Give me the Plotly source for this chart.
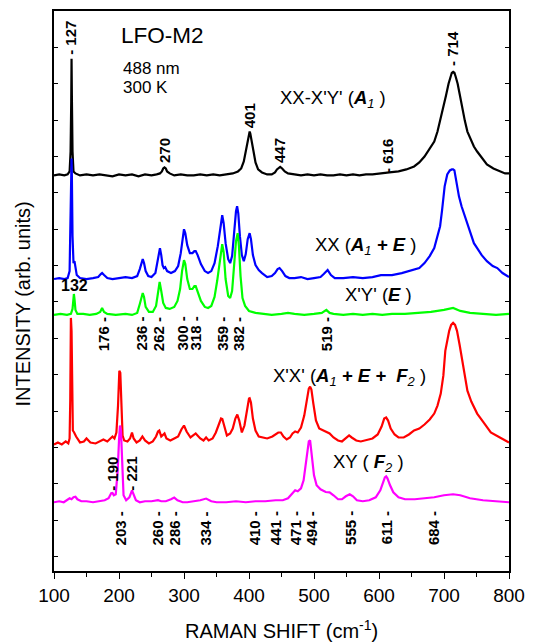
import plotly.graph_objects as go

# ---- spectra: (Raman shift cm^-1, intensity arb. units) ----
xx_minus_xy = [(100,397),(108,398),(116,397),(121,398),(124,401),(125.5,421),(126.5,471),(127,514),(127.5,476),(128.5,421),
 (130,401),(133,399),(140,397),(150,398),(160,397),(170,398),(180,397),(190,396),(200,398),(210,397),
 (220,398),(230,396),(240,398),(250,397),(258,398),(263,399),(266,401),(268,404),(270,405),(272,404),
 (274,401),(278,399),(285,397),(295,398),(305,397),(315,397),(325,398),(335,397),(345,398),(355,397),
 (365,398),(375,399),(383,401),(388,404),(392,411),(395,421),(398,434),(400,440),(401,441),(402,439),
 (404,433),(407,421),(410,410),(414,403),(420,400),(428,398),(435,398),(440,400),(443,403),(446,405),
 (448,405.5),(451,404),(455,401),(460,399),(470,398),(480,397),(490,398),(500,397),(510,398),(520,397),
 (530,397),(540,398),(550,397),(560,398),(570,397),(580,398),(590,398),(600,399),(616,400),(630,401),
 (642,403),(654,406),(662,410),(670,416),(677,423),(685,431),(690,441),(695,454),(699,465),(703,477),
 (707,489),(710,496),(712,500),(714,501),(716,500),(718,496),(721,489),(724,479),(728,464),(732,452),
 (736,441),(741,433),(746,426),(751,421),(758,415),(766,408),(776,404),(786,401),(794,399),(800,399)]

xx = [(100,293),(108,294),(116,293),(121,294),(124,301),(125.5,351),(126.5,401),(127,414),(127.5,396),(128.5,336),
 (130,309),(131.5,311),(133,306),(135,297),(140,294),(150,293),(160,294),(168,295),(172,298),(174,299),
 (177,297),(182,294),(190,293),(200,294),(210,295),(220,294),(228,296),(232,303),(234.5,309),(236.5,313),
 (238.5,309),(241,301),(245,296),(250,295),(256,299),(259,309),(261,319),(263,324),(265,317),(267,307),
 (269,304),(271,305),(274,301),(280,299),(286,301),(291,306),(295,319),(298,335),(300,343),(302,339),
 (305,327),(309,319),(313,319),(316,321),(318,321),(321,317),(326,308),(332,301),(337,299),(342,301),
 (347,309),(352,326),(356,346),(358.8,357),(361,349),(364,329),(368,313),(371,309),(374,316),(377,339),
 (380,361),(381.7,366),(383.5,359),(386,336),(389,317),(392,311),(395,318),(398,333),(401,339),(403,333),
 (406,317),(410,307),(415,302),(420,299),(428,295),(435,296),(440,299),(444,303),(447,304),(451,301),
 (456,296),(462,294),(470,294),(480,295),(490,293),(500,294),(510,295),(515,298),(521,302),(526,297),
 (532,294),(545,294),(560,295),(575,294),(590,295),(603,297),(620,297),(635,299),(645,301),(654,303),
 (662,304),(670,309),(678,316),(685,324),(690,335),(694,346),(697,362),(701,386),(705,398),(709,402),
 (712,403),(714,403),(716,402),(719,391),(723,376),(727,366),(731,358),(735,349),(740,339),(746,329),
 (751,324),(758,317),(766,311),(775,306),(782,304),(790,299),(800,295)]

xpyp = [(100,257),(110,258),(120,257),(126,258),(128.5,263),(130,273),(130.6,278),(131.5,273),(133,262),(136,258),
 (145,258),(155,257),(165,258),(171,260),(174,264),(177,260),(182,258),(195,257),(210,258),(220,257),
 (228,259),(232,268),(234.5,276),(236.5,279),(238.5,275),(241,265),(246,260),(252,260),(257,266),(260,281),
 (262.5,290),(265,281),(268,269),(272,264),(278,263),(285,265),(290,271),(294,283),(297,301),(300,312),
 (302,308),(305,293),(309,283),(313,283),(316,286),(318,286),(321,281),(326,271),(332,265),(337,264),
 (342,266),(347,275),(351,291),(355,313),(358.8,328),(361,320),(364,293),(368,276),(371,274),(374,281),
 (377,306),(380,331),(382.6,339),(384.5,326),(387,296),(390,274),(394,266),(400,261),(410,259),(420,258),
 (435,257),(450,258),(460,259),(470,258),(485,257),(500,258),(512,259),(519,262),(524,259),(530,258),
 (545,257),(560,258),(575,257),(590,258),(605,257),(620,258),(640,258),(660,259),(680,260),(700,262),
 (714,264),(725,261),(740,259),(760,258),(780,257),(800,258)]

xpxp = [(100,127),(106,129),(112,127),(118,130),(122,128),(124,133),(125,171),(126,254),(127,241),(127.8,171),
 (129,141),(131,139),(134,135),(140,129),(146,130),(150,133),(156,129),(164,128),(170,130),(176,132),
 (182,130),(187,133),(190,135),(193,133),(196,139),(198.5,166),(200.5,201),(202,199),(203.5,166),(205.5,136),
 (208,131),(213,130),(217,133),(220,139),(222.5,133),(227,129),(232,131),(236,135),(240,131),(246,128),
 (252,130),(257,135),(260,140),(262,141),(265,135),(268,137),(270,138),(273,133),(279,131),(285,133),
 (291,135),(296,142),(300,146),(304,140),(310,134),(318,138),(325,133),(330,131),(334,134),(338,131),
 (344,133),(349,139),(353,147),(357,153),(359,152.5),(362,145),(366,136),(371,138),(375,143),(379,153),
 (382,157),(385,151),(389,139),(393,146),(397,163),(400,173),(401,173.3),(403,169),(406,153),(410,141),
 (415,135),(420,134),(428,133),(436,135),(441,137),(445,139),(449,139),(453,135),(458,132),(463,134),
 (467,138),(471,140),(475,139),(480,144),(485,156),(489,171),(492,183),(494,185),(496,182),(499,168),
 (503,151),(508,143),(514,141),(519,139),(524,138),(530,134),(537,131),(543,130),(549,133),(554,136),
 (558,134),(565,131),(572,130),(580,131),(590,133),(598,137),(604,145),(608,153),(611,154),(614,151),
 (618,143),(624,137),(630,134),(638,134),(646,137),(654,141),(662,143),(670,147),(678,152),(685,158),
 (690,166),(695,178),(699,196),(702,221),(705,233),(708,241),(711,247),(714,249),(717,247),(720,241),
 (724,227),(728,211),(732,194),(736,181),(742,170),(751,158),(760,150),(772,139),(786,134),(800,129)]

xy = [(100,69),(108,70),(115,69),(120,71),(124,73),(127,72),(130,74),(133,74.5),(136,72),(142,70),
 (150,70),(160,69),(170,70),(178,71),(184,73),(188,78),(190,78.3),(192,76),(195,77),(198,101),
 (200,131),(201.5,146),(203,141),(205,101),(207,76),(211,71),(216,74),(220,81),(222.5,77),(226,71),
 (232,69),(240,70),(250,70),(256,71),(260,71),(265,70),(272,70),(280,72),(285,73.7),(290,71),
 (298,69),(305,69),(315,70),(325,71),(334,72.7),(342,70),(350,69),(365,69),(380,70),(395,69),
 (410,70),(425,70),(441,71),(452,71),(460,73),(466,77),(471,81),(475,80),(480,83),(484,91),
 (487,106),(490,123),(492,130),(494,131),(496,121),(498,106),(500,96),(504,86),(510,82),(518,79.3),
 (524,79),(530,76),(537,72),(543,72),(549,75),(555,77),(560,75),(566,71),(575,70),(585,71),
 (595,74),(602,81),(606,89),(609,94),(611,95),(613,93),(617,86),(622,79),(630,74),(640,72),
 (655,72),(670,73),(685,74),(700,76),(714,77),(725,76),(740,73),(760,71),(780,70),(800,69)]

# ---- peak labels ----
top_labels   = ["- 127", "270", "401", "447", "- 616", "- 714"]
top_label_x  = [126, 270, 401, 447, 613, 714]
top_label_y  = [535, 422, 457, 422, 417, 524]

e_labels     = ["176 -", "236 -", "262 -", "300 -", "318 -", "359 -", "382 -", "519 -"]
e_label_x    = [176, 235, 262, 298, 318, 360, 385, 519]
e_label_y    = 238

f2_labels_up = ["- 190", "- 221"]
f2_up_x      = [190, 219]
f2_up_y      = [97, 98]

f2_labels    = ["203 -", "260 -", "286 -", "334 -", "410 -", "441 -", "471 -", "494 -", "555 -", "611 -", "684 -"]
f2_label_x   = [202, 259, 285, 333, 408, 440, 471, 496, 555, 611, 683]
f2_label_y   = 43

FONT = "Liberation Sans, Arial, sans-serif"

fig = go.Figure()
series = [
    (xx_minus_xy, "#000000"),
    (xx, "#0000FF"),
    (xpyp, "#00FF00"),
    (xpxp, "#FF0000"),
    (xy, "#FF00FF"),
]
for pts, color in series:
    xs, ys = zip(*pts)
    fig.add_trace(go.Scatter(x=list(xs), y=list(ys), mode="lines",
                             line=dict(color=color, width=2.2),
                             showlegend=False, hoverinfo="skip"))

ann = []
def rot(text, x, y):
    ann.append(dict(text="<b>%s</b>" % text, x=x, y=y, xref="x", yref="y",
                    textangle=-90, showarrow=False, xanchor="center", yanchor="middle",
                    font=dict(size=15, color="black", family=FONT)))

for t, x, y in zip(top_labels, top_label_x, top_label_y):
    rot(t, x, y)
for t, x in zip(e_labels, e_label_x):
    rot(t, x, e_label_y)
for t, x, y in zip(f2_labels_up, f2_up_x, f2_up_y):
    rot(t, x, y)
for t, x in zip(f2_labels, f2_label_x):
    rot(t, x, f2_label_y)

ann.append(dict(text="<b>132</b>", x=131, y=287, xref="x", yref="y", showarrow=False,
                xanchor="center", yanchor="middle", font=dict(size=16, color="black", family=FONT)))

def txt(text, x, y, size):
    ann.append(dict(text=text, x=x, y=y, xref="x", yref="y", showarrow=False,
                    xanchor="left", yanchor="middle", font=dict(size=size, color="black", family=FONT)))

txt("LFO-M2", 200, 537, 22.5)
txt("488 nm", 203, 504, 17)
txt("300 K", 203, 485, 17)
txt("XX-X'Y' (<b><i>A</i></b><sub><i>1</i></sub> )", 445, 474, 18.5)
txt("XX (<b><i>A</i></b><sub><i>1</i></sub><b><i> + E</i></b> )", 499, 326, 18.5)
txt("X'Y' (<b><i>E</i></b> )", 545, 277, 18.5)
txt("X'X' (<b><i>A</i></b><sub><i>1</i></sub><b><i> + E +  F</i></b><sub><i>2</i></sub> )", 434, 195, 18.5)
txt("XY ( <b><i>F</i></b><sub><i>2</i></sub> )", 526, 108, 18.5)

ann.append(dict(text="INTENSITY (arb. units)", x=-0.068, y=0.476, xref="paper", yref="paper",
                textangle=-90, showarrow=False, xanchor="center", yanchor="middle",
                font=dict(size=20, color="black", family=FONT)))
ann.append(dict(text="RAMAN SHIFT (cm<sup>-1</sup>)", x=0.5, y=-0.105, xref="paper", yref="paper",
                showarrow=False, xanchor="center", yanchor="middle",
                font=dict(size=20, color="black", family=FONT)))

fig.update_layout(
    width=534, height=643,
    margin=dict(l=54, r=22, t=9, b=72),
    paper_bgcolor="white", plot_bgcolor="white",
    font=dict(family=FONT, color="black"),
    annotations=ann,
    xaxis=dict(range=[100, 800], dtick=100, tick0=100, ticks="outside", ticklen=6, tickwidth=1.3,
               tickcolor="black",
               minor=dict(dtick=50, ticks="outside", ticklen=4, tickwidth=1.3, tickcolor="black", showgrid=False),
               showline=True, linecolor="black", linewidth=1.5, mirror=True,
               showgrid=False, zeroline=False, tickfont=dict(size=19, family=FONT, color="black")),
    xaxis2=dict(range=[100, 800], overlaying="x", side="top", dtick=100, tick0=100,
                ticks="inside", ticklen=6, tickwidth=1.3, tickcolor="black",
                minor=dict(dtick=50, ticks="inside", ticklen=4, tickwidth=1.3, tickcolor="black", showgrid=False),
                showticklabels=False, showline=False, showgrid=False, zeroline=False),
    yaxis=dict(range=[0, 562], tick0=14.5, dtick=36.5, ticks="inside", ticklen=4, tickwidth=1.3,
               tickcolor="black", showticklabels=False, showline=True, linecolor="black",
               linewidth=1.5, mirror="ticks", showgrid=False, zeroline=False),
)

fig.write_html("out.html", config={"displayModeBar": False},
               post_script="document.body.style.margin='0';document.body.style.overflow='hidden';")
